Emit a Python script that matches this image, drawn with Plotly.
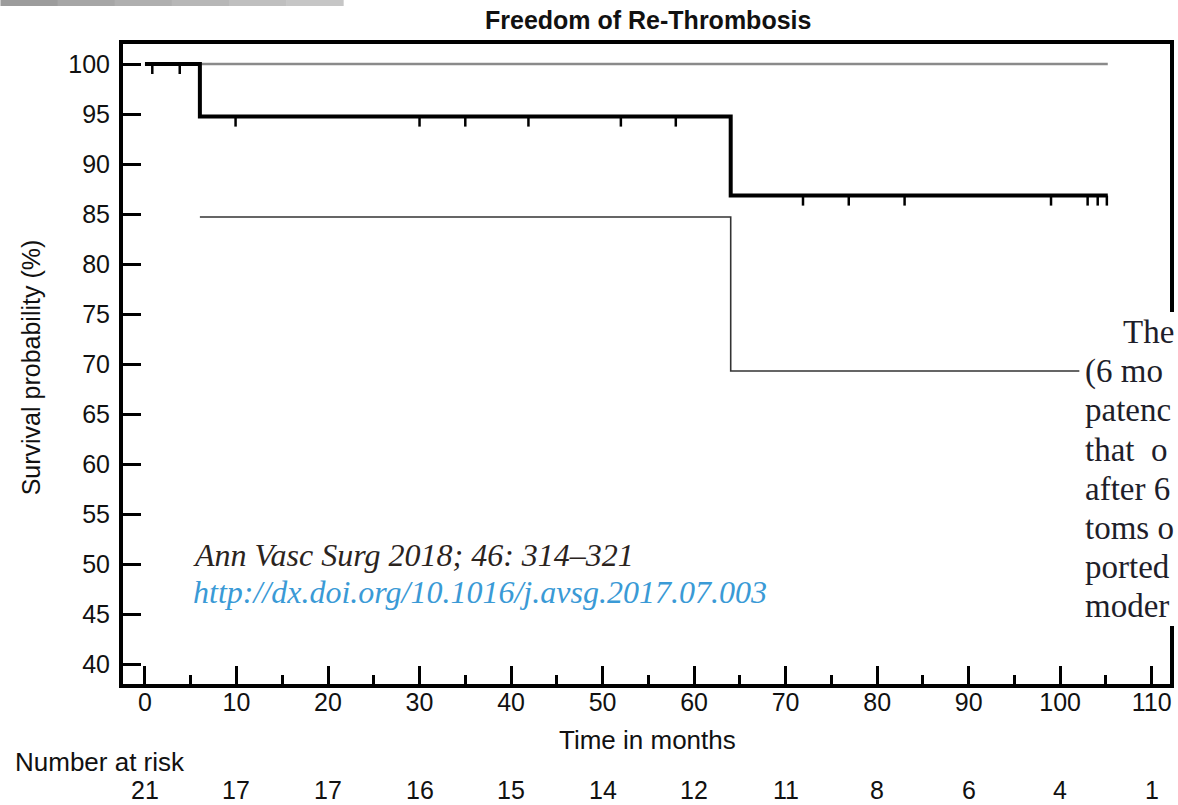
import numpy as np
import plotly.graph_objects as go

# ---------------- data ----------------
km_time = [0, 6, 64, 105.2]
km_surv = [100, 94.74, 86.84, 86.84]

censor_times = [0.8, 3.8, 9.9, 30, 35, 41.9, 52, 58, 71.9, 76.9, 83.0, 99.0, 103.0, 104.1, 105.1]

upper_ci_time = [0, 105.2]
upper_ci = [100, 100]

lower_ci_time = [6, 64, 105.2]
lower_ci = [84.7, 69.3, 69.3]

risk_times = [0, 10, 20, 30, 40, 50, 60, 70, 80, 90, 100, 110]
n_at_risk = [21, 17, 17, 16, 15, 14, 12, 11, 8, 6, 4, 1]

x_ticks = list(range(0, 111, 10))
y_ticks = list(range(40, 101, 5))

right_text_lines = ["The", "(6 mo", "patenc", "that&nbsp; o", "after 6", "toms o", "ported", "moder"]

# KM value at each censor time (step function)
idx = np.searchsorted(np.array(km_time), np.array(censor_times), side="right") - 1
censor_surv = np.array(km_surv)[idx]

# ---------------- geometry helpers ----------------
W, H = 1178, 805
L, R, T, B = 123, 1174, 44, 684


def px(x):
    return (x - L) / (R - L)


def py(y):
    return (B - y) / (B - T)


fig = go.Figure()

# upper CI (gray)
fig.add_trace(go.Scatter(x=upper_ci_time, y=upper_ci, mode="lines",
                         line=dict(color="#8a8a8a", width=2.5, shape="hv"),
                         hoverinfo="skip", showlegend=False))
# lower CI
fig.add_trace(go.Scatter(x=lower_ci_time, y=lower_ci, mode="lines",
                         line=dict(color="#333333", width=1.6, shape="hv"),
                         hoverinfo="skip", showlegend=False))
# KM curve
fig.add_trace(go.Scatter(x=km_time, y=km_surv, mode="lines",
                         line=dict(color="#000000", width=4, shape="hv"),
                         showlegend=False))
# censor marks (downward ticks)
fig.add_trace(go.Scatter(x=censor_times, y=censor_surv, mode="markers",
                         marker=dict(size=1, color="rgba(0,0,0,0)"),
                         error_y=dict(type="constant", symmetric=False, value=0,
                                      valueminus=1.0, width=0, thickness=2.5,
                                      color="#000000"),
                         showlegend=False))

tick_font = dict(family="Liberation Sans, Arial, sans-serif", size=25, color="#111111")

fig.update_xaxes(range=[-2.4, 112.0], tickvals=x_ticks, ticktext=[str(v) for v in x_ticks],
                 ticks="inside", ticklen=18, tickwidth=2.5, tickcolor="#000",
                 showline=True, linewidth=4, linecolor="#000", mirror=True,
                 showgrid=False, zeroline=False, tickfont=tick_font,
                 ticklabelstandoff=-7,
                 minor=dict(dtick=5, tick0=0, ticks="inside", ticklen=9, tickwidth=2.5,
                            tickcolor="#000", showgrid=False))
fig.update_yaxes(range=[38, 102], tickvals=y_ticks, ticktext=[str(v) for v in y_ticks],
                 ticks="inside", ticklen=18, tickwidth=2.5, tickcolor="#000",
                 showline=True, linewidth=4, linecolor="#000", mirror=True,
                 showgrid=False, zeroline=False, tickfont=tick_font,
                 ticklabelstandoff=4)

annotations = []
# title
annotations.append(dict(text="<b>Freedom of Re-Thrombosis</b>", xref="paper", yref="paper",
                        x=px(650), y=py(20), xanchor="center", yanchor="middle", showarrow=False,
                        font=dict(family="Liberation Sans, Arial, sans-serif", size=25, color="#111111")))
# y title
annotations.append(dict(text="Survival probability (%)", xref="paper", yref="paper",
                        x=px(31), y=py(367), xanchor="center", yanchor="middle", showarrow=False,
                        textangle=-90,
                        font=dict(family="Liberation Sans, Arial, sans-serif", size=25, color="#111111")))
# x title
annotations.append(dict(text="Time in months", xref="paper", yref="paper",
                        x=px(650), y=py(740), xanchor="center", yanchor="middle", showarrow=False,
                        font=dict(family="Liberation Sans, Arial, sans-serif", size=26, color="#111111")))
# number at risk
annotations.append(dict(text="Number at risk", xref="paper", yref="paper",
                        x=px(13), y=py(762), xanchor="left", yanchor="middle", showarrow=False,
                        font=dict(family="Liberation Sans, Arial, sans-serif", size=26, color="#111111")))
for t, n in zip(risk_times, n_at_risk):
    annotations.append(dict(text=str(n), xref="x", yref="paper", x=t, y=py(790),
                            xanchor="center", yanchor="middle", showarrow=False,
                            font=tick_font))
# citation overlay
annotations.append(dict(text="<i>Ann Vasc Surg 2018; 46: 314–321</i>", xref="paper", yref="paper",
                        x=px(191), y=py(555), xanchor="left", yanchor="middle", showarrow=False,
                        font=dict(family="Liberation Serif, Times New Roman, serif", size=32, color="#2b241e")))
annotations.append(dict(text="<i>http://dx.doi.org/10.1016/j.avsg.2017.07.003</i>", xref="paper", yref="paper",
                        x=px(191), y=py(592), xanchor="left", yanchor="middle", showarrow=False,
                        font=dict(family="Liberation Serif, Times New Roman, serif", size=32, color="#3a9ad6")))
# right-side text column
line_y = [332, 371, 410, 450, 489, 528, 567, 606]
line_x = [1125, 1087, 1087, 1087, 1087, 1087, 1087, 1087]
for txt, yy, xx in zip(right_text_lines, line_y, line_x):
    annotations.append(dict(text=txt, xref="paper", yref="paper", x=px(xx), y=py(yy),
                            xanchor="left", yanchor="middle", showarrow=False,
                            font=dict(family="Liberation Serif, Times New Roman, serif", size=33, color="#1e1e2a")))

shapes = []
# white block behind right text column
shapes.append(dict(type="rect", xref="paper", yref="paper", x0=px(1083), x1=px(1180),
                   y0=py(626), y1=py(312), fillcolor="white", line=dict(width=0), layer="above"))
# gray strip at top-left
grays = ["#9c9c9c", "#a6a6a6", "#afafaf", "#b7b7b7", "#bfbfbf", "#c6c6c6"]
seg = 344 / len(grays)
for i, g in enumerate(grays):
    shapes.append(dict(type="rect", xref="paper", yref="paper", x0=px(i * seg), x1=px((i + 1) * seg + 0.5),
                       y0=py(6), y1=py(0), fillcolor=g, line=dict(width=0), layer="above"))

fig.update_layout(width=W, height=H, margin=dict(l=L, r=W - R, t=T, b=H - B),
                  paper_bgcolor="white", plot_bgcolor="white",
                  annotations=annotations, shapes=shapes, showlegend=False)

fig.write_html("out.html")
